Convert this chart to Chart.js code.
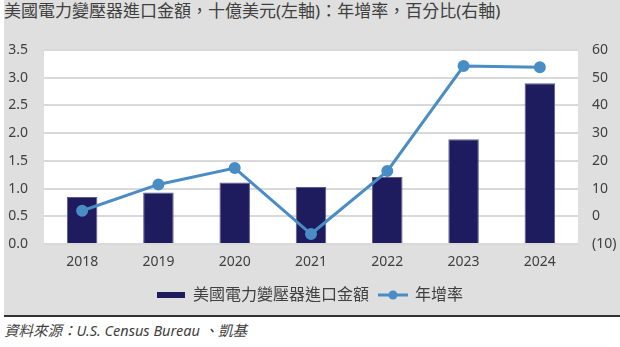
<!DOCTYPE html>
<html>
<head>
<meta charset="utf-8">
<script src="https://cdn.jsdelivr.net/npm/chart.js@4.4.1/dist/chart.umd.min.js"></script>
<style>
  body { margin: 0; width: 620px; height: 347px; background: #fff; overflow: hidden;
         font-family: "Noto Sans", "Noto Sans CJK TC", sans-serif; color: #404040; }
  .panel { position: absolute; left: 4px; top: 0; width: 616px; height: 315px; background: #dfdfdf;
           border-bottom: 2px solid #333; }
  .title { position: absolute; left: 4px; top: 0; font-size: 17px; line-height: 22px; white-space: nowrap; }
  .chart-box { position: absolute; left: 0; top: 0; width: 620px; height: 315px; }
  .source { position: absolute; left: 4px; top: 320px; font-size: 14.5px; font-style: italic; line-height: 20px; }
</style>
</head>
<body>
<div class="panel"></div>
<div class="title">美國電力變壓器進口金額，十億美元(左軸)：年增率，百分比(右軸)</div>
<div class="chart-box"><canvas id="importChart"></canvas></div>
<div class="source">資料來源：U.S. Census Bureau 、凱基</div>
<script>
  const years = ["2018", "2019", "2020", "2021", "2022", "2023", "2024"];
  const importValue = [0.85, 0.93, 1.11, 1.03, 1.21, 1.89, 2.90];
  const yoyGrowth = [2.0, 11.5, 17.4, -6.4, 16.3, 54.2, 53.8];
  const leftTicks = [0, 0.5, 1.0, 1.5, 2.0, 2.5, 3.0, 3.5];
  const rightTicks = [-10, 0, 10, 20, 30, 40, 50, 60];

  const navy = "#1e1b5f";
  const blue = "#4a8dc4";
  const textColor = "#404040";

  function barLegendIcon() {
    const c = document.createElement("canvas");
    c.width = 28; c.height = 6;
    const ctx = c.getContext("2d");
    ctx.fillStyle = navy;
    ctx.fillRect(0, 0, 28, 6);
    return c;
  }

  function lineLegendIcon() {
    const c = document.createElement("canvas");
    c.width = 30; c.height = 10;
    const ctx = c.getContext("2d");
    ctx.strokeStyle = blue;
    ctx.lineWidth = 3;
    ctx.beginPath();
    ctx.moveTo(0, 5);
    ctx.lineTo(30, 5);
    ctx.stroke();
    ctx.fillStyle = blue;
    ctx.beginPath();
    ctx.arc(15, 5, 4.5, 0, Math.PI * 2);
    ctx.fill();
    return c;
  }

  const legendIcons = [lineLegendIcon(), barLegendIcon()];

  const plotBackground = {
    id: "plotBackground",
    beforeDraw(chart) {
      const { ctx, chartArea } = chart;
      ctx.save();
      ctx.fillStyle = "#ffffff";
      ctx.fillRect(chartArea.left, chartArea.top, chartArea.right - chartArea.left, chartArea.bottom - chartArea.top);
      ctx.restore();
    },
  };

  Chart.defaults.font.family = '"Noto Sans", "Noto Sans CJK TC", sans-serif';
  Chart.defaults.color = textColor;

  new Chart(document.getElementById("importChart"), {
    type: "bar",
    data: {
      labels: years,
      datasets: [
        {
          type: "line",
          label: "年增率",
          data: yoyGrowth,
          yAxisID: "y1",
          borderColor: blue,
          backgroundColor: blue,
          borderWidth: 3,
          pointStyle: "circle",
          pointRadius: 4.5,
          pointHoverRadius: 4.5,
          tension: 0,
          order: 0,
        },
        {
          type: "bar",
          label: "美國電力變壓器進口金額",
          data: importValue,
          yAxisID: "y",
          backgroundColor: navy,
          borderColor: "#5e5c8e",
          borderWidth: 1,
          barPercentage: 0.4,
          categoryPercentage: 1,
          order: 1,
        },
      ],
    },
    plugins: [plotBackground],
    options: {
      responsive: true,
      maintainAspectRatio: false,
      animation: false,
      layout: { padding: { top: 50, bottom: 2, left: 0, right: 0 } },
      plugins: {
        title: { display: false },
        tooltip: { enabled: false },
        legend: {
          position: "bottom",
          labels: {
            usePointStyle: true,
            pointStyleWidth: 28,
            padding: 10,
            color: textColor,
            font: { size: 16 },
            generateLabels(chart) {
              // bar first, then the line, like the original
              return [1, 0].map((i) => ({
                text: chart.data.datasets[i].label,
                pointStyle: legendIcons[i],
                datasetIndex: i,
                fontColor: textColor,
                lineWidth: 0,
                hidden: false,
              }));
            },
          },
        },
      },
      scales: {
        x: {
          grid: { display: false, drawTicks: false },
          border: { display: false },
          ticks: { padding: 10, font: { size: 14 }, color: textColor },
          afterFit(axis) { axis.height = 33; },
        },
        y: {
          position: "left",
          min: 0,
          max: 3.5,
          afterBuildTicks(axis) { axis.ticks = leftTicks.map((v) => ({ value: v })); },
          ticks: {
            padding: 16,
            font: { size: 14 },
            color: textColor,
            callback: (v) => Number(v).toFixed(1),
          },
          grid: { color: "#d9d9d9", lineWidth: 2, drawTicks: false },
          border: { display: false },
          afterFit(axis) { axis.width = 44; },
        },
        y1: {
          position: "right",
          min: -10,
          max: 60,
          afterBuildTicks(axis) { axis.ticks = rightTicks.map((v) => ({ value: v })); },
          ticks: {
            padding: 14,
            font: { size: 14 },
            color: textColor,
            callback: (v) => (v < 0 ? "(" + Math.abs(v) + ")" : String(v)),
          },
          grid: { display: false, drawTicks: false },
          border: { display: false },
          afterFit(axis) { axis.width = 42; },
        },
      },
    },
  });
</script>
</body>
</html>
